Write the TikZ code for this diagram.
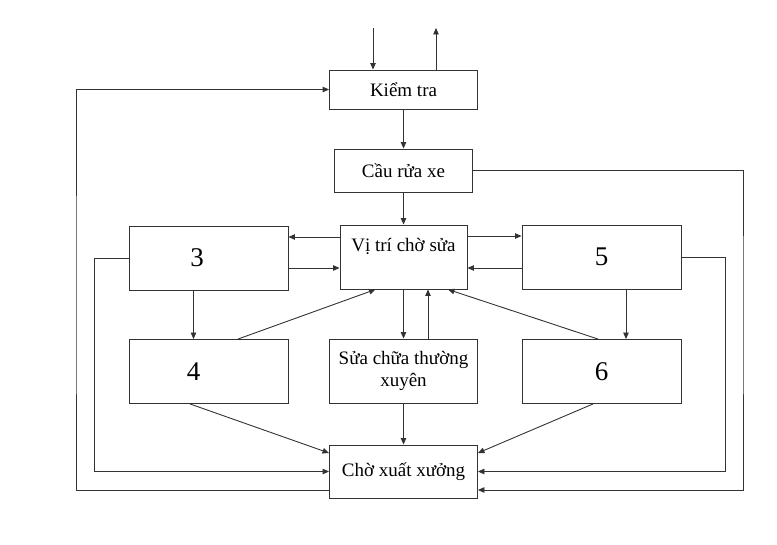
\documentclass[tikz,border=0pt]{standalone}
\usepackage{fontspec}
\setmainfont{Liberation Serif}
\usetikzlibrary{arrows.meta}

\begin{document}
\begin{tikzpicture}[x=1pt, y=-1pt, >={Triangle[length=6.5pt,width=5.5pt]}, line width=0.9pt,
    box/.style={draw=black!80, rectangle, inner sep=0pt, align=center, font=\fontsize{19}{22}\selectfont},
    numbox/.style={box, minimum width=159pt, minimum height=64pt, font=\fontsize{27}{30}\selectfont},
    conn/.style={->, draw=black!80}]
    \useasboundingbox (0,0) rectangle (777,545);
    \node[box, minimum width=148pt, minimum height=39pt] (kt) at (403.5,89.5) {Kiểm tra};
    \node[box, minimum width=138pt, minimum height=43pt] (cr) at (403.5,170.5) {Cầu rửa xe};
    \node[box, minimum width=127pt, text height=27pt, text depth=37pt] (vt) at (403.5,257) {Vị trí chờ sửa};
    \node[numbox] (b3) at (208.5,258) {3\hspace*{23pt}};
    \node[numbox] (b4) at (209,371.5) {4\hspace*{31pt}};
    \node[box, minimum width=148pt, minimum height=64pt] (sc) at (403.5,371) {Sửa chữa thường\\xuyên};
    \node[numbox] (b5) at (601.5,257) {5};
    \node[numbox] (b6) at (601.5,371.5) {6};
    \node[box, minimum width=148pt, minimum height=53pt] (cx) at (403.5,471.5) {Chờ xuất xưởng};
    \coordinate (in) at (373,28);
    \coordinate (out) at (436,28);
    \coordinate (lft) at (76,300);
    \coordinate (rgt) at (743,300);
    \draw [conn] (in) -- (in |- kt.north);
    \draw [conn] (out |- kt.north) -- (out);
    \draw [conn] (kt) -- (cr);
    \draw [conn] (cr) -- (vt);
    \draw [conn] ([yshift=20pt]vt.west) -- ([yshift=20pt]vt.west -| b3.east);
    \draw [conn] ([yshift=-10pt]b3.east) -- ([yshift=-10pt]b3.east -| vt.west);
    \draw [conn] ([yshift=21pt]vt.east) -- ([yshift=21pt]vt.east -| b5.west);
    \draw [conn] ([yshift=-11pt]b5.west) -- ([yshift=-11pt]b5.west -| vt.east);
    \draw [conn] ([xshift=-15pt]b3.south) -- ([xshift=-15pt]b3.south |- b4.north);
    \draw [conn] ([xshift=24.5pt]b5.south) -- ([xshift=24.5pt]b5.south |- b6.north);
    \draw [conn] ([xshift=29pt]b4.north) -- ([xshift=-28pt]vt.south);
    \draw [conn] ([xshift=-3.5pt]b6.north) -- ([xshift=44.5pt]vt.south);
    \draw [conn] (vt) -- (sc);
    \draw [conn] ([xshift=24.5pt]sc.north) -- ([xshift=24.5pt]sc.north |- vt.south);
    \draw [conn] ([xshift=-19pt]b4.south) -- ([yshift=18.5pt]cx.west);
    \draw [conn] (sc) -- (cx);
    \draw [conn] ([xshift=-8.5pt]b6.south) -- ([yshift=18.5pt]cx.east);
    \draw [conn] (b3.west) -- ++(-34pt,0) |- (cx.west);
    \draw [conn] (b5.east) -- ++(44pt,0) |- (cx.east);
    \draw [conn] ([yshift=-18.5pt]cx.west) -| (lft) |- (kt.west);
    \draw [conn] (cr.east) -| (rgt) |- ([yshift=-18.5pt]cx.east);
\end{tikzpicture}
\end{document}
